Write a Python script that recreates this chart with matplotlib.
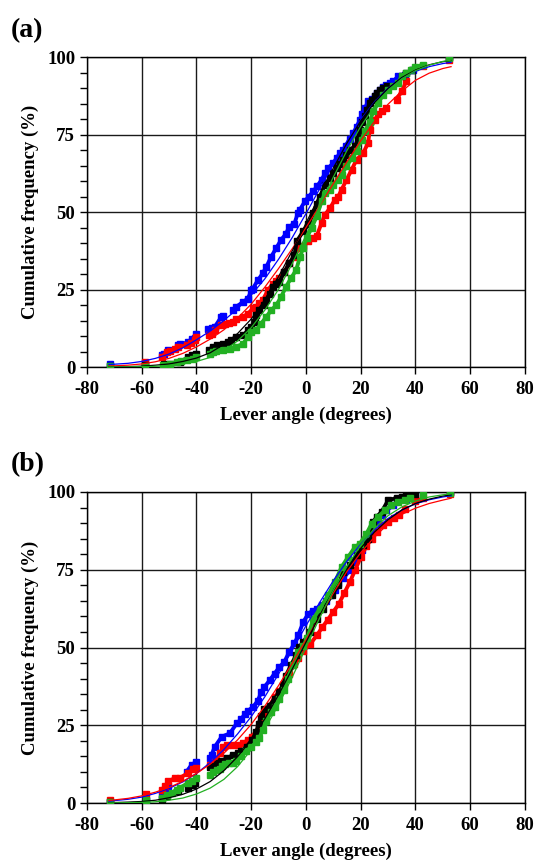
import numpy as np
import matplotlib
matplotlib.use("Agg")
import matplotlib.pyplot as plt
from matplotlib.ticker import MultipleLocator

plt.rcParams["font.family"] = ["Liberation Serif", "DejaVu Serif"]
plt.rcParams["font.weight"] = "bold"
plt.rcParams["axes.unicode_minus"] = False

# ---- panel (a): observed cumulative frequencies ----
a_blue_x = [-71.5, -58.8, -52.7, -52.0, -50.3, -46.7, -46.0, -43.0, -41.8, -40.0, -35.8, -34.5, -33.3,
            -30.9, -30.3, -26.7, -25.5, -23.0, -21.2, -20.0, -19.4, -17.6, -15.8, -14.5, -12.7, -10.9,
            -9.1, -7.3, -6.1, -4.2, -3.0, -2.2, -0.4, 1.0, 2.7, 4.2, 5.7, 7.0, 8.1, 10.0, 11.2, 12.4,
            13.6, 14.8, 16.0, 17.3, 18.5, 19.7, 20.6, 21.5, 22.7, 24.0, 25.2, 26.0, 27.0, 28.2, 29.4,
            30.6, 31.9, 33.7, 36.1, 39.1, 52.2]
a_blue_y = [0.9, 1.4, 3.8, 4.3, 5.4, 7.0, 7.3, 8.0, 9.2, 10.6, 12.4, 12.6, 13.0, 16.2, 16.5, 18.3, 19.4,
            21.0, 22.1, 24.8, 25.3, 28.0, 30.2, 32.3, 35.6, 38.3, 41.0, 43.0, 45.3, 46.3, 49.6, 50.8,
            53.4, 55.0, 56.7, 58.5, 60.4, 62.5, 64.2, 65.8, 67.5, 69.0, 70.0, 71.2, 73.5, 75.5, 77.5,
            79.8, 81.5, 83.5, 85.7, 86.5, 87.3, 88.5, 89.5, 90.3, 91.0, 91.6, 92.2, 93.8, 94.3, 95.9, 100]

a_black_x = [-71.5, -58.8, -52.0, -49.7, -46.0, -43.0, -41.5, -40.3, -35.5, -34.0, -32.5, -30.3, -28.5,
             -27.3, -25.5, -23.0, -21.2, -20.0, -18.8, -18.2, -17.0, -15.5, -14.5, -13.3, -12.1, -10.9,
             -9.7, -7.9, -6.1, -4.2, -3.4, -1.0, 0.9, 2.7, 3.9, 5.1, 6.9, 8.8, 10.0, 11.2, 12.4, 13.6,
             14.8, 16.0, 17.9, 19.0, 19.7, 20.6, 21.5, 22.4, 23.3, 24.2, 25.2, 26.1, 27.0, 28.2, 29.5,
             34.9, 36.7, 38.6, 52.2]
a_black_y = [0.2, 0.5, 0.9, 1.1, 1.6, 3.2, 3.8, 4.3, 5.6, 6.5, 7.0, 7.5, 8.0, 8.6, 9.7, 10.2, 11.8, 13.0,
             14.5, 16.7, 18.3, 20.0, 21.6, 23.5, 25.9, 26.8, 27.5, 30.7, 33.4, 36.1, 40.5, 43.8, 46.0,
             49.7, 52.5, 55.0, 58.8, 61.0, 62.5, 64.2, 65.5, 66.9, 68.5, 70.1, 71.2, 73.5, 76.6, 79.0,
             80.9, 83.0, 85.2, 86.3, 87.3, 88.5, 89.5, 90.0, 90.8, 93.8, 94.8, 95.8, 100]

a_red_x = [-58.8, -52.7, -50.9, -49.5, -47.9, -46.7, -43.6, -42.0, -40.6, -40.0, -35.5, -34.5, -33.3,
           -30.9, -29.7, -28.2, -26.7, -25.5, -23.0, -21.2, -19.4, -18.2, -17.0, -15.8, -13.9, -12.1,
           -10.9, -9.7, -7.9, -6.1, -4.2, -2.7, -1.0, 0.9, 2.4, 3.9, 5.7, 6.9, 8.8, 10.6, 11.8, 13.0,
           14.8, 16.7, 18.5, 20.9, 22.7, 23.3, 25.2, 26.4, 27.6, 29.4, 33.1, 34.9, 36.7, 42.8, 52.2]
a_red_y = [1.6, 3.2, 4.8, 5.3, 5.9, 6.5, 7.0, 7.8, 8.6, 9.7, 10.3, 10.8, 11.9, 13.5, 14.0, 14.3, 14.5,
           15.6, 16.2, 17.2, 18.9, 19.4, 20.5, 21.6, 24.8, 26.9, 27.8, 28.6, 30.7, 33.4, 35.6, 38.3,
           38.9, 40.5, 41.5, 42.2, 46.5, 49.1, 51.3, 54.0, 55.0, 57.2, 60.4, 63.7, 66.9, 69.0, 72.3,
           76.6, 79.8, 81.5, 82.5, 83.5, 86.2, 88.9, 92.2, 97.0, 99.1]

a_green_x = [-71.5, -58.8, -52.1, -49.7, -47.3, -45.5, -43.6, -41.2, -40.0, -35.2, -34.0, -32.7, -30.3,
             -27.9, -25.5, -23.0, -21.2, -20.0, -18.2, -16.4, -14.5, -12.7, -10.9, -9.1, -7.3, -5.5,
             -3.6, -2.2, -1.0, 0.2, 2.1, 3.9, 5.7, 6.9, 8.8, 10.0, 11.8, 13.0, 14.8, 16.7, 18.5, 20.3,
             21.5, 23.3, 24.6, 26.4, 28.2, 30.0, 31.9, 33.7, 34.9, 36.7, 38.5, 40.0, 42.8, 52.2]
a_green_y = [0.2, 0.3, 0.8, 1.1, 1.6, 1.9, 2.2, 2.7, 3.2, 4.3, 4.8, 5.1, 5.4, 5.9, 6.5, 7.5, 9.7, 11.3,
             11.9, 14.0, 16.2, 18.3, 19.9, 22.6, 25.9, 28.6, 31.3, 35.5, 38.5, 41.5, 45.0, 48.6, 53.4,
             56.1, 57.2, 58.8, 60.4, 62.0, 64.7, 67.4, 69.6, 73.3, 76.0, 79.2, 82.5, 85.2, 87.8, 89.5,
             90.5, 91.6, 93.8, 94.8, 95.7, 96.8, 97.5, 99.7]

# ---- panel (b): observed cumulative frequencies ----
b_blue_x = [-71.5, -58.5, -52.7, -51.5, -50.3, -43.6, -41.8, -40.0, -35.1, -34.5, -33.3, -30.8, -27.8,
            -25.3, -23.6, -22.4, -21.2, -19.4, -17.6, -16.4, -15.2, -13.3, -11.5, -9.7, -7.9, -6.1,
            -4.2, -2.8, -1.0, 0.9, 2.4, 3.9, 5.7, 7.2, 8.8, 10.6, 11.8, 13.6, 16.0, 17.3, 18.5, 20.3,
            22.1, 24.0, 26.4, 27.8, 29.4, 31.9, 36.7, 39.8, 52.5]
b_blue_y = [0.3, 1.1, 2.7, 4.3, 5.6, 10.1, 12.3, 13.3, 14.4, 15.5, 18.1, 21.3, 22.4, 25.6, 27.0, 28.6,
            29.7, 30.8, 32.9, 35.6, 37.3, 39.4, 41.6, 43.7, 45.4, 48.6, 51.3, 54.0, 58.2, 60.9, 61.8,
            62.5, 63.6, 65.0, 66.8, 68.4, 70.6, 72.2, 74.8, 77.5, 79.1, 81.3, 84.5, 87.2, 90.4, 92.5,
            94.1, 95.7, 97.9, 98.9, 100]

b_black_x = [-71.5, -58.5, -52.7, -50.9, -46.7, -43.0, -41.5, -40.6, -35.1, -34.0, -32.6, -30.9, -29.0,
             -26.6, -25.0, -23.6, -21.7, -19.8, -18.2, -17.3, -16.4, -15.2, -13.3, -11.5, -9.7, -8.5,
             -7.3, -5.5, -3.6, -2.4, -1.0, 1.5, 3.9, 6.3, 9.4, 11.8, 13.6, 16.0, 18.5, 20.9, 22.7, 24.6,
             25.8, 27.6, 30.0, 33.1, 34.9, 36.7, 39.8, 52.5]
b_black_y = [0.2, 0.6, 1.4, 2.2, 3.8, 4.9, 5.8, 6.5, 11.7, 12.0, 12.8, 13.6, 14.4, 15.4, 16.0, 16.7,
             18.1, 20.2, 22.7, 25.5, 28.1, 30.2, 31.3, 33.5, 35.6, 38.0, 41.0, 44.3, 47.5, 50.2, 51.8,
             55.0, 59.3, 62.5, 66.8, 70.0, 74.3, 76.4, 79.7, 82.9, 85.0, 90.4, 92.0, 93.6, 97.3, 98.1,
             98.4, 99.1, 99.5, 100]

b_red_x = [-71.5, -58.5, -52.7, -51.5, -50.3, -47.9, -46.0, -43.0, -41.2, -40.0, -35.1, -33.3, -31.4,
           -30.3, -29.0, -26.6, -25.0, -23.0, -21.2, -19.8, -17.0, -15.2, -13.3, -11.5, -9.7, -7.9,
           -6.1, -4.2, -3.0, -1.0, 1.5, 4.0, 6.0, 8.0, 10.0, 12.0, 14.0, 16.0, 18.0, 20.0, 22.0, 24.0,
           26.0, 28.0, 30.0, 32.0, 34.0, 36.0, 40.0, 42.8, 52.5]
b_red_y = [1.1, 3.0, 4.3, 5.4, 7.0, 8.0, 8.1, 9.7, 10.8, 11.3, 12.3, 13.2, 16.0, 18.0, 18.6, 18.6, 18.7,
           19.2, 20.3, 21.3, 24.5, 28.5, 31.3, 34.0, 36.1, 38.3, 41.6, 44.8, 46.5, 49.0, 51.0, 54.0,
           56.5, 59.0, 61.5, 64.0, 67.5, 71.0, 75.0, 79.0, 82.5, 85.0, 87.0, 89.5, 90.5, 91.5, 92.5,
           94.5, 97.0, 98.0, 99.5]

b_green_x = [-71.5, -58.5, -52.7, -50.9, -49.1, -47.3, -46.0, -43.0, -41.8, -40.0, -35.2, -34.0, -32.6,
             -31.5, -30.5, -29.7, -28.2, -26.7, -25.5, -23.6, -21.8, -20.0, -18.2, -17.0, -15.8, -14.5,
             -12.7, -11.5, -9.7, -7.9, -6.7, -4.8, -3.0, -1.0, 0.5, 2.7, 5.1, 8.1, 10.6, 13.0, 15.4, 17.9,
             19.7, 22.1, 24.0, 26.4, 28.8, 31.2, 33.7, 36.1, 37.9, 42.8, 52.5]
b_green_y = [0.2, 0.9, 1.6, 2.7, 3.2, 4.3, 4.9, 6.5, 7.0, 8.1, 9.0, 10.0, 10.5, 11.0, 11.8, 12.5, 12.8,
             13.0, 13.5, 15.0, 16.8, 18.0, 19.5, 21.0, 23.5, 26.5, 29.2, 30.8, 33.5, 36.2, 40.0, 44.3,
             48.6, 50.5, 53.0, 59.3, 62.5, 66.8, 71.1, 75.9, 79.1, 82.3, 83.4, 86.6, 89.8, 92.0, 94.1,
             95.7, 96.8, 97.3, 98.1, 99.1, 99.8]

fit_x = [-72, -65, -60, -55, -50, -45, -40, -35, -30, -25, -20, -15, -10, -5, 0,
         5, 10, 15, 20, 25, 30, 35, 40, 45, 50, 53]
a_blue_fit = [0.8, 1.2, 1.8, 2.8, 4.2, 6.2, 8.8, 11.6, 15.0, 18.8, 23.2, 28.5, 34.8, 41.8, 49.5,
              57.5, 65.5, 73.0, 79.8, 85.5, 90.0, 93.2, 95.4, 96.9, 97.9, 98.3]
a_red_fit = [0.3, 0.6, 1.0, 1.7, 2.8, 4.4, 6.5, 9.0, 12.0, 15.8, 20.3, 25.8, 31.8, 38.2, 45.0,
             52.0, 59.2, 66.3, 73.0, 79.2, 84.8, 89.0, 92.5, 94.8, 96.3, 96.9]
a_black_fit = [0.03, 0.1, 0.3, 0.6, 1.0, 1.8, 2.9, 4.6, 7.3, 10.8, 15.5, 21.8, 29.2, 37.5, 46.4,
               55.4, 64.2, 72.3, 79.4, 85.3, 89.9, 93.4, 95.8, 97.5, 98.5, 98.9]
a_green_fit = [0.01, 0.05, 0.1, 0.25, 0.5, 1.0, 1.8, 3.1, 5.3, 8.4, 12.7, 18.4, 25.1, 33.4, 42.5,
               52.0, 61.3, 69.9, 77.6, 84.1, 89.2, 93.0, 95.6, 97.4, 98.6, 99.0]
b_blue_fit = [0.6, 1.2, 1.9, 3.1, 4.7, 6.8, 9.5, 13.0, 17.2, 22.2, 27.8, 34.2, 41.5, 49.2, 57.0,
              64.5, 71.5, 77.8, 83.2, 87.8, 91.5, 94.2, 96.2, 97.5, 98.4, 98.8]
b_red_fit = [0.8, 1.5, 2.3, 3.5, 5.0, 7.0, 9.5, 12.5, 16.0, 20.3, 25.3, 31.2, 37.8, 45.0, 52.5,
             60.0, 67.5, 74.5, 80.5, 85.5, 89.7, 92.8, 94.8, 96.3, 97.4, 98.0]
b_black_fit = [0.1, 0.3, 0.5, 0.9, 1.7, 2.8, 4.5, 6.9, 10.4, 14.9, 20.3, 27.1, 34.8, 43.1, 51.7,
               60.3, 68.4, 75.7, 81.9, 87.1, 91.1, 94.2, 96.3, 97.7, 98.7, 99.1]
b_green_fit = [0.03, 0.1, 0.2, 0.4, 0.9, 1.6, 2.9, 4.8, 7.6, 11.7, 17.1, 23.9, 31.6, 40.5, 50.0,
               59.5, 68.4, 76.1, 82.9, 88.3, 92.4, 95.2, 97.1, 98.4, 99.1, 99.4]

COLORS = {"blue": "#0000ff", "black": "#000000", "red": "#ff0000", "green": "#22b022"}


def draw_series(ax, x, y, color):
    x = np.asarray(x)
    y = np.asarray(y)
    # join neighbouring observations only where the data are dense
    start = 0
    for i in range(1, len(x) + 1):
        if i == len(x) or x[i] - x[i - 1] > 3.5:
            if i - start > 1:
                ax.plot(x[start:i], y[start:i], "-", color=color, lw=2.8,
                        solid_capstyle="butt", zorder=3)
            start = i
    ax.plot(x, y, "s", color=color, ms=4.0, mec=color, zorder=3)


def draw_panel(ax, series, fits):
    for name, (x, y) in series.items():
        draw_series(ax, x, y, COLORS[name])
    for name, f in fits.items():
        ax.plot(fit_x, f, "-", color=COLORS[name], lw=0.9, zorder=4)

    ax.set_xlim(-80, 80)
    ax.set_ylim(0, 100)
    ax.xaxis.set_major_locator(MultipleLocator(20))
    ax.yaxis.set_major_locator(MultipleLocator(25))
    ax.yaxis.set_minor_locator(MultipleLocator(5))
    ax.grid(True, which="major", color="0.1", lw=1.0, zorder=1)
    ax.tick_params(which="both", direction="out", length=5, width=1.0, labelsize=13.5)
    ax.tick_params(axis="x", pad=5)
    for s in ax.spines.values():
        s.set_linewidth(1.0)
    ax.set_xlabel("Lever angle (degrees)", fontsize=13.5, fontweight="bold", labelpad=6)
    ax.set_ylabel("Cumulative frequency (%)", fontsize=13.5, fontweight="bold", labelpad=6)
    for lab in ax.get_xticklabels() + ax.get_yticklabels():
        lab.set_fontweight("bold")


fig = plt.figure(figsize=(5.37, 8.63), dpi=100)
ax_a = fig.add_axes([0.162, 0.5747, 0.8156, 0.3592])
ax_b = fig.add_axes([0.162, 0.0695, 0.8156, 0.3604])

draw_panel(ax_a,
           {"blue": (a_blue_x, a_blue_y), "red": (a_red_x, a_red_y),
            "black": (a_black_x, a_black_y), "green": (a_green_x, a_green_y)},
           {"blue": a_blue_fit, "red": a_red_fit, "black": a_black_fit, "green": a_green_fit})
draw_panel(ax_b,
           {"blue": (b_blue_x, b_blue_y), "red": (b_red_x, b_red_y),
            "black": (b_black_x, b_black_y), "green": (b_green_x, b_green_y)},
           {"blue": b_blue_fit, "red": b_red_fit, "black": b_black_fit, "green": b_green_fit})

fig.text(0.02, 0.965, "(a)", fontsize=20, fontweight="bold", va="center", ha="left")
fig.text(0.02, 0.462, "(b)", fontsize=20, fontweight="bold", va="center", ha="left")

fig.savefig("out.png", dpi=100)
